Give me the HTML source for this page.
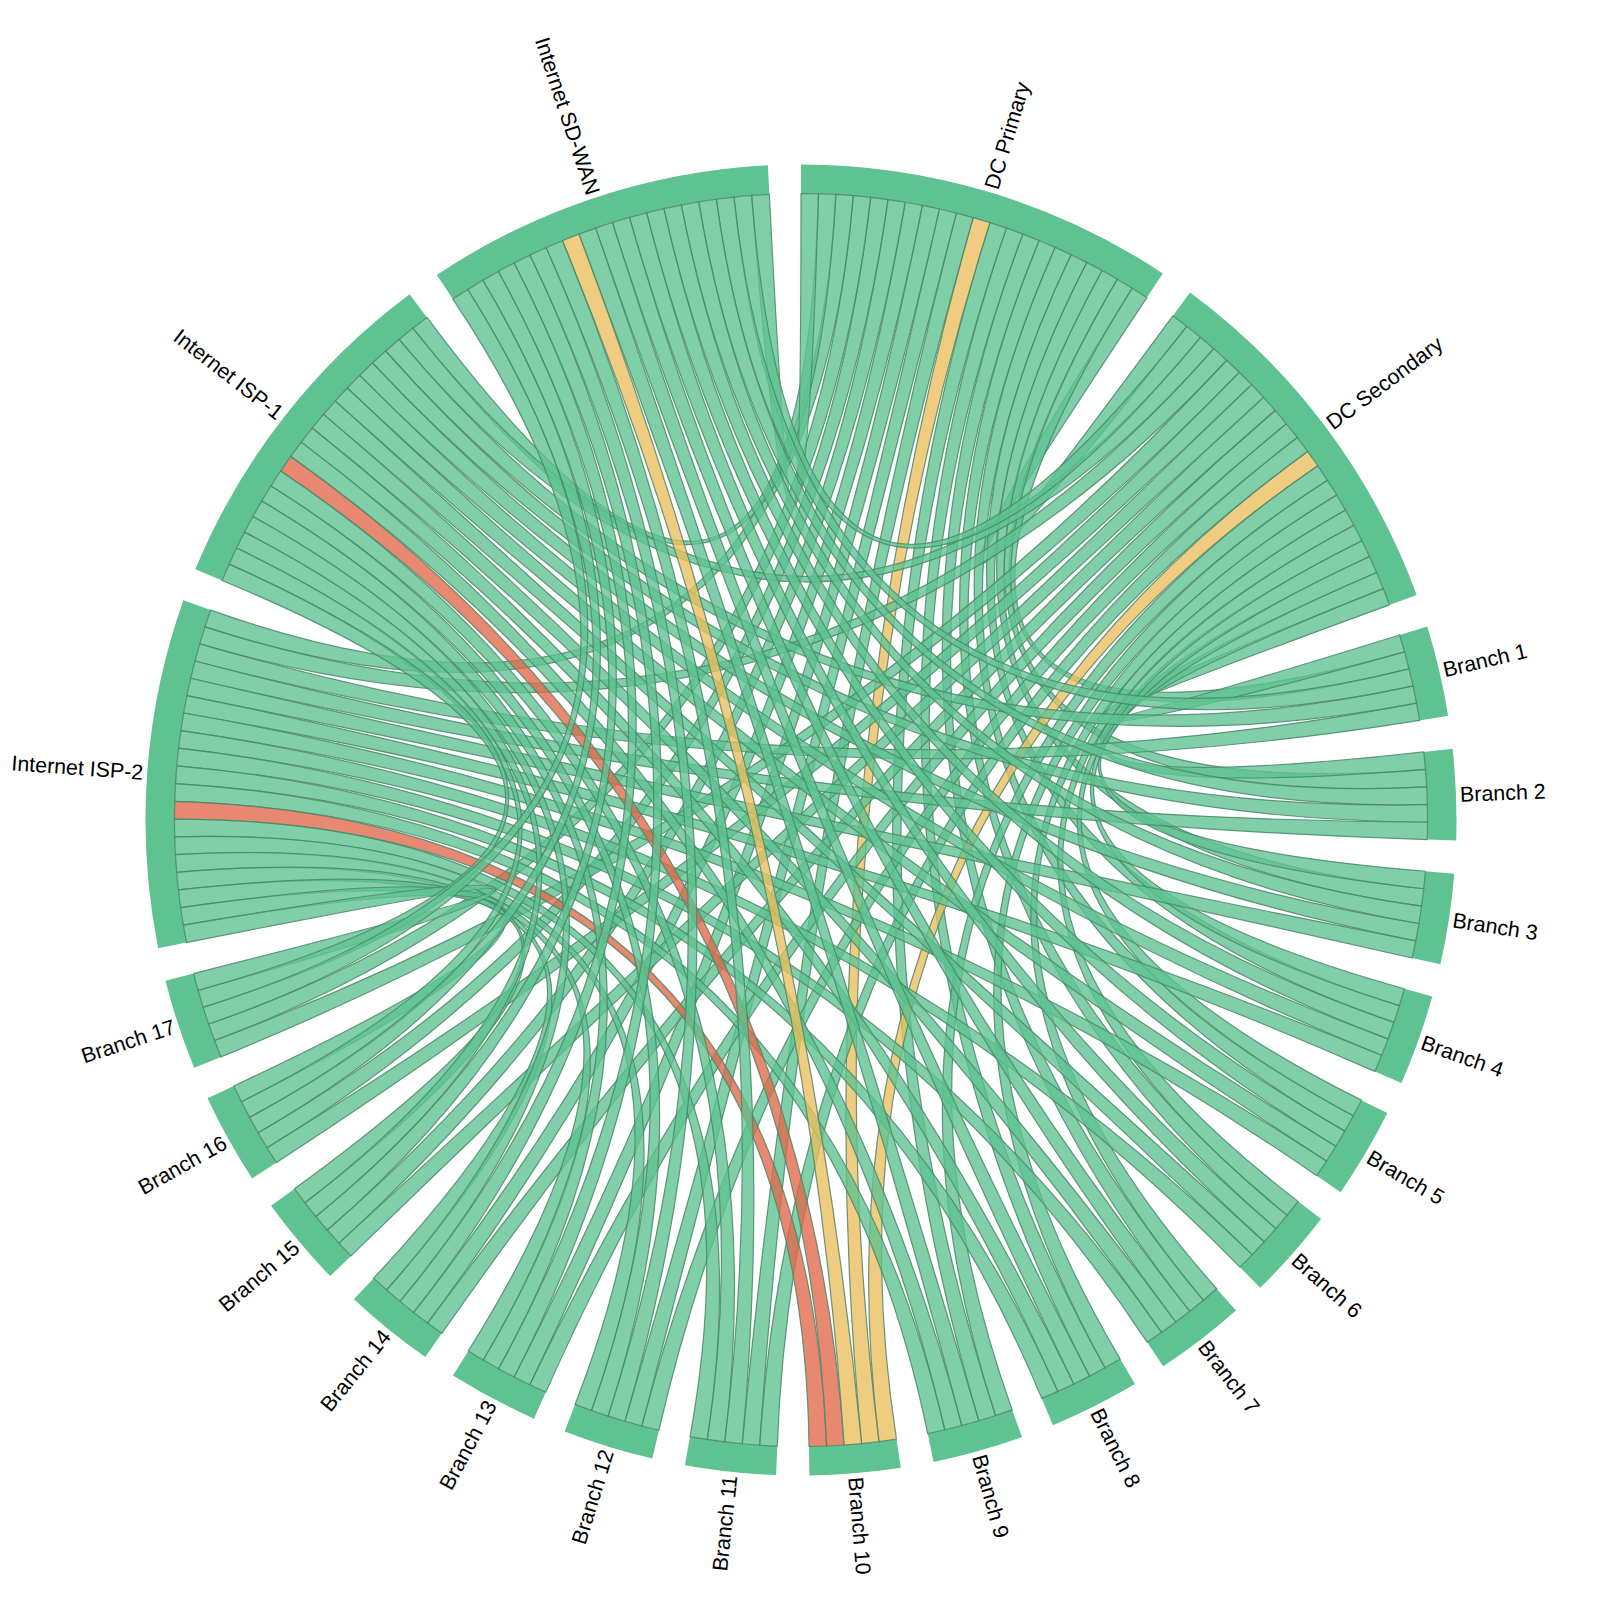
<!DOCTYPE html><html><head><meta charset="utf-8"><style>html,body{margin:0;padding:0;background:#fff;}svg{display:block;}text{font-family:"Liberation Sans",sans-serif;font-size:21.4px;fill:#000;}</style></head><body>
<svg width="1600" height="1600" viewBox="0 0 1600 1600">
<rect width="1600" height="1600" fill="#fff"/>
<g fill="#5ec291">
<path d="M801,164.5A655.5,655.5 0 0 1 1162.86,273.43L1146.85,297.61A626.5,626.5 0 0 0 801,193.5Z"/>
<path d="M1190.09,292.47A655.5,655.5 0 0 1 1416.65,594.92L1389.41,604.88A626.5,626.5 0 0 0 1172.88,315.81Z"/>
<path d="M1427.26,626.41A655.5,655.5 0 0 1 1448.16,715.8L1419.53,720.41A626.5,626.5 0 0 0 1399.56,634.98Z"/>
<path d="M1452.61,748.73A655.5,655.5 0 0 1 1456.18,840.45L1427.2,839.55A626.5,626.5 0 0 0 1423.79,751.88Z"/>
<path d="M1454.3,873.63A655.5,655.5 0 0 1 1440.41,964.36L1412.12,957.98A626.5,626.5 0 0 0 1425.4,871.26Z"/>
<path d="M1432.27,996.58A655.5,655.5 0 0 1 1401.41,1083.03L1374.85,1071.4A626.5,626.5 0 0 0 1404.34,988.77Z"/>
<path d="M1387.31,1113.12A655.5,655.5 0 0 1 1340.61,1192.15L1316.74,1175.69A626.5,626.5 0 0 0 1361.37,1100.15Z"/>
<path d="M1321.06,1219.02A655.5,655.5 0 0 1 1260.22,1287.76L1239.91,1267.06A626.5,626.5 0 0 0 1298.05,1201.37Z"/>
<path d="M1235.93,1310.43A655.5,655.5 0 0 1 1163.15,1366.37L1147.13,1342.2A626.5,626.5 0 0 0 1216.69,1288.73Z"/>
<path d="M1135,1384.03A655.5,655.5 0 0 1 1052.93,1425.15L1041.79,1398.38A626.5,626.5 0 0 0 1120.22,1359.07Z"/>
<path d="M1021.94,1437.14A655.5,655.5 0 0 1 933.57,1461.96L927.7,1433.55A626.5,626.5 0 0 0 1012.17,1409.84Z"/>
<path d="M900.86,1467.85A655.5,655.5 0 0 1 809.39,1475.45L809.01,1446.45A626.5,626.5 0 0 0 896.45,1439.19Z"/>
<path d="M776.16,1475.03A655.5,655.5 0 0 1 684.9,1465.14L690.04,1436.59A626.5,626.5 0 0 0 777.26,1446.05Z"/>
<path d="M652.35,1458.42A655.5,655.5 0 0 1 564.63,1431.4L575.09,1404.35A626.5,626.5 0 0 0 658.93,1430.18Z"/>
<path d="M533.95,1418.63A655.5,655.5 0 0 1 452.94,1375.46L468.34,1350.89A626.5,626.5 0 0 0 545.76,1392.15Z"/>
<path d="M425.24,1357.11A655.5,655.5 0 0 1 353.89,1299.35L373.67,1278.14A626.5,626.5 0 0 0 441.86,1333.35Z"/>
<path d="M330.18,1276.08A655.5,655.5 0 0 1 271.08,1205.83L294.53,1188.76A626.5,626.5 0 0 0 351.01,1255.9Z"/>
<path d="M252.21,1178.48A655.5,655.5 0 0 1 207.51,1098.31L233.77,1085.99A626.5,626.5 0 0 0 276.49,1162.62Z"/>
<path d="M194.17,1067.87A655.5,655.5 0 0 1 165.5,980.67L193.61,973.56A626.5,626.5 0 0 0 221.02,1056.91Z"/>
<path d="M158.17,948.26A655.5,655.5 0 0 1 183.39,600.37L210.71,610.09A626.5,626.5 0 0 0 186.61,942.59Z"/>
<path d="M195.31,569.36A655.5,655.5 0 0 1 409.62,294.16L426.94,317.43A626.5,626.5 0 0 0 222.11,580.44Z"/>
<path d="M436.78,275A655.5,655.5 0 0 1 767.89,165.34L769.35,194.3A626.5,626.5 0 0 0 452.89,299.11Z"/>
</g>
<g fill-opacity="0.79" stroke="#4a876a" stroke-width="1.2" stroke-opacity="0.85">
<path d="M1132.17,288.18A626.5,626.5 0 0 1 1146.85,297.61Q801,820 1172.88,315.81A626.5,626.5 0 0 1 1186.77,326.36Q801,820 1132.17,288.18Z" fill="#5ec291"/>
<path d="M1404.51,651.83A626.5,626.5 0 0 1 1408.98,668.81Q801,820 1117.23,279.17A626.5,626.5 0 0 1 1132.17,288.18Q801,820 1404.51,651.83Z" fill="#5ec291"/>
<path d="M1425.45,769.36A626.5,626.5 0 0 1 1426.62,786.88Q801,820 1102.05,270.57A626.5,626.5 0 0 1 1117.23,279.17Q801,820 1425.45,769.36Z" fill="#5ec291"/>
<path d="M1423.72,888.73A626.5,626.5 0 0 1 1421.55,906.16Q801,820 1086.64,262.4A626.5,626.5 0 0 1 1102.05,270.57Q801,820 1423.72,888.73Z" fill="#5ec291"/>
<path d="M1399.37,1005.61A626.5,626.5 0 0 1 1393.94,1022.31Q801,820 1071,254.67A626.5,626.5 0 0 1 1086.64,262.4Q801,820 1399.37,1005.61Z" fill="#5ec291"/>
<path d="M1353.3,1115.75A626.5,626.5 0 0 1 1344.79,1131.11Q801,820 1055.15,247.37A626.5,626.5 0 0 1 1071,254.67Q801,820 1353.3,1115.75Z" fill="#5ec291"/>
<path d="M1287.17,1215.15A626.5,626.5 0 0 1 1275.9,1228.62Q801,820 1039.11,240.51A626.5,626.5 0 0 1 1055.15,247.37Q801,820 1287.17,1215.15Z" fill="#5ec291"/>
<path d="M1203.39,1300.2A626.5,626.5 0 0 1 1189.77,1311.28Q801,820 1022.88,234.11A626.5,626.5 0 0 1 1039.11,240.51Q801,820 1203.39,1300.2Z" fill="#5ec291"/>
<path d="M1104.99,1367.81A626.5,626.5 0 0 1 1089.52,1376.11Q801,820 1006.48,228.16A626.5,626.5 0 0 1 1022.88,234.11Q801,820 1104.99,1367.81Z" fill="#5ec291"/>
<path d="M995.55,1415.53A626.5,626.5 0 0 1 978.79,1420.74Q801,820 989.92,222.66A626.5,626.5 0 0 1 1006.48,228.16Q801,820 995.55,1415.53Z" fill="#5ec291"/>
<path d="M879.05,1441.62A626.5,626.5 0 0 1 861.6,1443.56Q801,820 973.22,217.64A626.5,626.5 0 0 1 989.92,222.66Q801,820 879.05,1441.62Z" fill="#ecbe5e"/>
<path d="M759.72,1445.14A626.5,626.5 0 0 1 742.22,1443.74Q801,820 956.38,213.07A626.5,626.5 0 0 1 973.22,217.64Q801,820 759.72,1445.14Z" fill="#5ec291"/>
<path d="M641.88,1425.96A626.5,626.5 0 0 1 624.96,1421.26Q801,820 939.42,208.98A626.5,626.5 0 0 1 956.38,213.07Q801,820 641.88,1425.96Z" fill="#5ec291"/>
<path d="M529.83,1384.77A626.5,626.5 0 0 1 514.11,1376.95Q801,820 922.35,205.37A626.5,626.5 0 0 1 939.42,208.98Q801,820 529.83,1384.77Z" fill="#5ec291"/>
<path d="M427.62,1323.08A626.5,626.5 0 0 1 413.66,1312.42Q801,820 905.19,202.22A626.5,626.5 0 0 1 922.35,205.37Q801,820 427.62,1323.08Z" fill="#5ec291"/>
<path d="M338.97,1243.12A626.5,626.5 0 0 1 327.29,1230Q801,820 887.95,199.56A626.5,626.5 0 0 1 905.19,202.22Q801,820 338.97,1243.12Z" fill="#5ec291"/>
<path d="M267.09,1147.79A626.5,626.5 0 0 1 258.12,1132.7Q801,820 870.64,197.38A626.5,626.5 0 0 1 887.95,199.56Q801,820 267.09,1147.79Z" fill="#5ec291"/>
<path d="M214.61,1040.56A626.5,626.5 0 0 1 208.66,1024.04Q801,820 853.28,195.69A626.5,626.5 0 0 1 870.64,197.38Q801,820 214.61,1040.56Z" fill="#5ec291"/>
<path d="M835.88,194.47A626.5,626.5 0 0 1 853.28,195.69Q801,820 205,626.9A626.5,626.5 0 0 1 210.71,610.09Q801,820 835.88,194.47Z" fill="#5ec291"/>
<path d="M818.44,193.74A626.5,626.5 0 0 1 835.88,194.47Q801,820 412.85,328.23A626.5,626.5 0 0 1 426.94,317.43Q801,820 818.44,193.74Z" fill="#5ec291"/>
<path d="M801,193.5A626.5,626.5 0 0 1 818.44,193.74Q801,820 751.63,195.45A626.5,626.5 0 0 1 769.35,194.3Q801,820 801,193.5Z" fill="#5ec291"/>
<path d="M1399.56,634.98A626.5,626.5 0 0 1 1404.51,651.83Q801,820 1383.19,588.58A626.5,626.5 0 0 1 1389.41,604.88Q801,820 1399.56,634.98Z" fill="#5ec291"/>
<path d="M1423.79,751.88A626.5,626.5 0 0 1 1425.45,769.36Q801,820 1376.52,572.46A626.5,626.5 0 0 1 1383.19,588.58Q801,820 1423.79,751.88Z" fill="#5ec291"/>
<path d="M1425.4,871.26A626.5,626.5 0 0 1 1423.72,888.73Q801,820 1369.41,556.53A626.5,626.5 0 0 1 1376.52,572.46Q801,820 1425.4,871.26Z" fill="#5ec291"/>
<path d="M1404.34,988.77A626.5,626.5 0 0 1 1399.37,1005.61Q801,820 1361.85,540.81A626.5,626.5 0 0 1 1369.41,556.53Q801,820 1404.34,988.77Z" fill="#5ec291"/>
<path d="M1361.37,1100.15A626.5,626.5 0 0 1 1353.3,1115.75Q801,820 1353.86,525.3A626.5,626.5 0 0 1 1361.85,540.81Q801,820 1361.37,1100.15Z" fill="#5ec291"/>
<path d="M1298.05,1201.37A626.5,626.5 0 0 1 1287.17,1215.15Q801,820 1345.44,510.02A626.5,626.5 0 0 1 1353.86,525.3Q801,820 1298.05,1201.37Z" fill="#5ec291"/>
<path d="M1216.69,1288.73A626.5,626.5 0 0 1 1203.39,1300.2Q801,820 1336.6,494.98A626.5,626.5 0 0 1 1345.44,510.02Q801,820 1216.69,1288.73Z" fill="#5ec291"/>
<path d="M1120.22,1359.07A626.5,626.5 0 0 1 1104.99,1367.81Q801,820 1327.34,480.19A626.5,626.5 0 0 1 1336.6,494.98Q801,820 1120.22,1359.07Z" fill="#5ec291"/>
<path d="M1012.17,1409.84A626.5,626.5 0 0 1 995.55,1415.53Q801,820 1317.67,465.67A626.5,626.5 0 0 1 1327.34,480.19Q801,820 1012.17,1409.84Z" fill="#5ec291"/>
<path d="M896.45,1439.19A626.5,626.5 0 0 1 879.05,1441.62Q801,820 1307.61,451.42A626.5,626.5 0 0 1 1317.67,465.67Q801,820 896.45,1439.19Z" fill="#ecbe5e"/>
<path d="M777.26,1446.05A626.5,626.5 0 0 1 759.72,1445.14Q801,820 1297.15,437.46A626.5,626.5 0 0 1 1307.61,451.42Q801,820 777.26,1446.05Z" fill="#5ec291"/>
<path d="M658.93,1430.18A626.5,626.5 0 0 1 641.88,1425.96Q801,820 1286.31,423.79A626.5,626.5 0 0 1 1297.15,437.46Q801,820 658.93,1430.18Z" fill="#5ec291"/>
<path d="M545.76,1392.15A626.5,626.5 0 0 1 529.83,1384.77Q801,820 1275.09,410.43A626.5,626.5 0 0 1 1286.31,423.79Q801,820 545.76,1392.15Z" fill="#5ec291"/>
<path d="M441.86,1333.35A626.5,626.5 0 0 1 427.62,1323.08Q801,820 1263.5,397.39A626.5,626.5 0 0 1 1275.09,410.43Q801,820 441.86,1333.35Z" fill="#5ec291"/>
<path d="M351.01,1255.9A626.5,626.5 0 0 1 338.97,1243.12Q801,820 1251.55,384.68A626.5,626.5 0 0 1 1263.5,397.39Q801,820 351.01,1255.9Z" fill="#5ec291"/>
<path d="M276.49,1162.62A626.5,626.5 0 0 1 267.09,1147.79Q801,820 1239.25,372.3A626.5,626.5 0 0 1 1251.55,384.68Q801,820 276.49,1162.62Z" fill="#5ec291"/>
<path d="M221.02,1056.91A626.5,626.5 0 0 1 214.61,1040.56Q801,820 1226.62,360.27A626.5,626.5 0 0 1 1239.25,372.3Q801,820 221.02,1056.91Z" fill="#5ec291"/>
<path d="M1213.65,348.6A626.5,626.5 0 0 1 1226.62,360.27Q801,820 199.77,643.88A626.5,626.5 0 0 1 205,626.9Q801,820 1213.65,348.6Z" fill="#5ec291"/>
<path d="M1200.37,337.29A626.5,626.5 0 0 1 1213.65,348.6Q801,820 399.06,339.43A626.5,626.5 0 0 1 412.85,328.23Q801,820 1200.37,337.29Z" fill="#5ec291"/>
<path d="M1186.77,326.36A626.5,626.5 0 0 1 1200.37,337.29Q801,820 733.95,197.1A626.5,626.5 0 0 1 751.63,195.45Q801,820 1186.77,326.36Z" fill="#5ec291"/>
<path d="M1416.5,703.11A626.5,626.5 0 0 1 1419.53,720.41Q801,820 195.02,660.99A626.5,626.5 0 0 1 199.77,643.88Q801,820 1416.5,703.11Z" fill="#5ec291"/>
<path d="M1412.98,685.91A626.5,626.5 0 0 1 1416.5,703.11Q801,820 385.6,351.01A626.5,626.5 0 0 1 399.06,339.43Q801,820 1412.98,685.91Z" fill="#5ec291"/>
<path d="M1408.98,668.81A626.5,626.5 0 0 1 1412.98,685.91Q801,820 716.32,199.25A626.5,626.5 0 0 1 733.95,197.1Q801,820 1408.98,668.81Z" fill="#5ec291"/>
<path d="M1427.5,821.99A626.5,626.5 0 0 1 1427.2,839.55Q801,820 190.75,678.23A626.5,626.5 0 0 1 195.02,660.99Q801,820 1427.5,821.99Z" fill="#5ec291"/>
<path d="M1427.31,804.43A626.5,626.5 0 0 1 1427.5,821.99Q801,820 372.48,362.98A626.5,626.5 0 0 1 385.6,351.01Q801,820 1427.31,804.43Z" fill="#5ec291"/>
<path d="M1426.62,786.88A626.5,626.5 0 0 1 1427.31,804.43Q801,820 698.76,201.9A626.5,626.5 0 0 1 716.32,199.25Q801,820 1426.62,786.88Z" fill="#5ec291"/>
<path d="M1415.74,940.79A626.5,626.5 0 0 1 1412.12,957.98Q801,820 186.98,695.58A626.5,626.5 0 0 1 190.75,678.23Q801,820 1415.74,940.79Z" fill="#5ec291"/>
<path d="M1418.89,923.52A626.5,626.5 0 0 1 1415.74,940.79Q801,820 359.7,375.31A626.5,626.5 0 0 1 372.48,362.98Q801,820 1418.89,923.52Z" fill="#5ec291"/>
<path d="M1421.55,906.16A626.5,626.5 0 0 1 1418.89,923.52Q801,820 681.28,205.04A626.5,626.5 0 0 1 698.76,201.9Q801,820 1421.55,906.16Z" fill="#5ec291"/>
<path d="M1381.67,1055.21A626.5,626.5 0 0 1 1374.85,1071.4Q801,820 183.7,713.03A626.5,626.5 0 0 1 186.98,695.58Q801,820 1381.67,1055.21Z" fill="#5ec291"/>
<path d="M1388.03,1038.85A626.5,626.5 0 0 1 1381.67,1055.21Q801,820 347.27,387.99A626.5,626.5 0 0 1 359.7,375.31Q801,820 1388.03,1038.85Z" fill="#5ec291"/>
<path d="M1393.94,1022.31A626.5,626.5 0 0 1 1388.03,1038.85Q801,820 663.9,208.69A626.5,626.5 0 0 1 681.28,205.04Q801,820 1393.94,1022.31Z" fill="#5ec291"/>
<path d="M1326.51,1161.09A626.5,626.5 0 0 1 1316.74,1175.69Q801,820 180.92,730.57A626.5,626.5 0 0 1 183.7,713.03Q801,820 1326.51,1161.09Z" fill="#5ec291"/>
<path d="M1335.86,1146.23A626.5,626.5 0 0 1 1326.51,1161.09Q801,820 335.21,401.03A626.5,626.5 0 0 1 347.27,387.99Q801,820 1335.86,1146.23Z" fill="#5ec291"/>
<path d="M1344.79,1131.11A626.5,626.5 0 0 1 1335.86,1146.23Q801,820 646.63,212.82A626.5,626.5 0 0 1 663.9,208.69Q801,820 1344.79,1131.11Z" fill="#5ec291"/>
<path d="M1252.26,1254.59A626.5,626.5 0 0 1 1239.91,1267.06Q801,820 178.63,748.18A626.5,626.5 0 0 1 180.92,730.57Q801,820 1252.26,1254.59Z" fill="#5ec291"/>
<path d="M1264.27,1241.77A626.5,626.5 0 0 1 1252.26,1254.59Q801,820 323.52,414.4A626.5,626.5 0 0 1 335.21,401.03Q801,820 1264.27,1241.77Z" fill="#5ec291"/>
<path d="M1275.9,1228.62A626.5,626.5 0 0 1 1264.27,1241.77Q801,820 629.48,217.44A626.5,626.5 0 0 1 646.63,212.82Q801,820 1275.9,1228.62Z" fill="#5ec291"/>
<path d="M1161.63,1332.3A626.5,626.5 0 0 1 1147.13,1342.2Q801,820 176.84,765.85A626.5,626.5 0 0 1 178.63,748.18Q801,820 1161.63,1332.3Z" fill="#5ec291"/>
<path d="M1175.85,1321.99A626.5,626.5 0 0 1 1161.63,1332.3Q801,820 312.21,428.09A626.5,626.5 0 0 1 323.52,414.4Q801,820 1175.85,1321.99Z" fill="#5ec291"/>
<path d="M1189.77,1311.28A626.5,626.5 0 0 1 1175.85,1321.99Q801,820 612.47,222.54A626.5,626.5 0 0 1 629.48,217.44Q801,820 1189.77,1311.28Z" fill="#5ec291"/>
<path d="M1057.9,1391.4A626.5,626.5 0 0 1 1041.79,1398.38Q801,820 175.56,783.57A626.5,626.5 0 0 1 176.84,765.85Q801,820 1057.9,1391.4Z" fill="#5ec291"/>
<path d="M1073.82,1383.98A626.5,626.5 0 0 1 1057.9,1391.4Q801,820 301.3,442.11A626.5,626.5 0 0 1 312.21,428.09Q801,820 1073.82,1383.98Z" fill="#5ec291"/>
<path d="M1089.52,1376.11A626.5,626.5 0 0 1 1073.82,1383.98Q801,820 595.61,228.12A626.5,626.5 0 0 1 612.47,222.54Q801,820 1089.52,1376.11Z" fill="#5ec291"/>
<path d="M944.85,1429.76A626.5,626.5 0 0 1 927.7,1433.55Q801,820 174.78,801.31A626.5,626.5 0 0 1 175.56,783.57Q801,820 944.85,1429.76Z" fill="#5ec291"/>
<path d="M961.88,1425.49A626.5,626.5 0 0 1 944.85,1429.76Q801,820 290.79,456.42A626.5,626.5 0 0 1 301.3,442.11Q801,820 961.88,1425.49Z" fill="#5ec291"/>
<path d="M978.79,1420.74A626.5,626.5 0 0 1 961.88,1425.49Q801,820 578.92,234.18A626.5,626.5 0 0 1 595.61,228.12Q801,820 978.79,1420.74Z" fill="#5ec291"/>
<path d="M826.57,1445.98A626.5,626.5 0 0 1 809.01,1446.45Q801,820 174.5,819.06A626.5,626.5 0 0 1 174.78,801.31Q801,820 826.57,1445.98Z" fill="#e2684a"/>
<path d="M844.1,1445.02A626.5,626.5 0 0 1 826.57,1445.98Q801,820 280.69,471.03A626.5,626.5 0 0 1 290.79,456.42Q801,820 844.1,1445.02Z" fill="#e2684a"/>
<path d="M861.6,1443.56A626.5,626.5 0 0 1 844.1,1445.02Q801,820 562.4,240.71A626.5,626.5 0 0 1 578.92,234.18Q801,820 861.6,1443.56Z" fill="#ecbe5e"/>
<path d="M707.36,1439.46A626.5,626.5 0 0 1 690.04,1436.59Q801,820 174.73,836.82A626.5,626.5 0 0 1 174.5,819.06Q801,820 707.36,1439.46Z" fill="#5ec291"/>
<path d="M724.76,1441.84A626.5,626.5 0 0 1 707.36,1439.46Q801,820 271.01,485.91A626.5,626.5 0 0 1 280.69,471.03Q801,820 724.76,1441.84Z" fill="#5ec291"/>
<path d="M742.22,1443.74A626.5,626.5 0 0 1 724.76,1441.84Q801,820 546.08,247.71A626.5,626.5 0 0 1 562.4,240.71Q801,820 742.22,1443.74Z" fill="#5ec291"/>
<path d="M591.55,1410.45A626.5,626.5 0 0 1 575.09,1404.35Q801,820 175.45,854.57A626.5,626.5 0 0 1 174.73,836.82Q801,820 591.55,1410.45Z" fill="#5ec291"/>
<path d="M608.18,1416.09A626.5,626.5 0 0 1 591.55,1410.45Q801,820 261.75,501.07A626.5,626.5 0 0 1 271.01,485.91Q801,820 608.18,1416.09Z" fill="#5ec291"/>
<path d="M624.96,1421.26A626.5,626.5 0 0 1 608.18,1416.09Q801,820 529.96,255.16A626.5,626.5 0 0 1 546.08,247.71Q801,820 624.96,1421.26Z" fill="#5ec291"/>
<path d="M483.35,1360A626.5,626.5 0 0 1 468.34,1350.89Q801,820 176.69,872.28A626.5,626.5 0 0 1 175.45,854.57Q801,820 483.35,1360Z" fill="#5ec291"/>
<path d="M498.61,1368.69A626.5,626.5 0 0 1 483.35,1360Q801,820 252.93,516.48A626.5,626.5 0 0 1 261.75,501.07Q801,820 498.61,1368.69Z" fill="#5ec291"/>
<path d="M514.11,1376.95A626.5,626.5 0 0 1 498.61,1368.69Q801,820 514.06,263.07A626.5,626.5 0 0 1 529.96,255.16Q801,820 514.11,1376.95Z" fill="#5ec291"/>
<path d="M386.68,1289.94A626.5,626.5 0 0 1 373.67,1278.14Q801,820 178.42,889.96A626.5,626.5 0 0 1 176.69,872.28Q801,820 386.68,1289.94Z" fill="#5ec291"/>
<path d="M400.02,1301.37A626.5,626.5 0 0 1 386.68,1289.94Q801,820 244.55,532.14A626.5,626.5 0 0 1 252.93,516.48Q801,820 400.02,1301.37Z" fill="#5ec291"/>
<path d="M413.66,1312.42A626.5,626.5 0 0 1 400.02,1301.37Q801,820 498.39,271.43A626.5,626.5 0 0 1 514.06,263.07Q801,820 413.66,1312.42Z" fill="#5ec291"/>
<path d="M305.06,1202.81A626.5,626.5 0 0 1 294.53,1188.76Q801,820 180.65,907.58A626.5,626.5 0 0 1 178.42,889.96Q801,820 305.06,1202.81Z" fill="#5ec291"/>
<path d="M315.98,1216.56A626.5,626.5 0 0 1 305.06,1202.81Q801,820 236.61,548.03A626.5,626.5 0 0 1 244.55,532.14Q801,820 315.98,1216.56Z" fill="#5ec291"/>
<path d="M327.29,1230A626.5,626.5 0 0 1 315.98,1216.56Q801,820 482.97,280.23A626.5,626.5 0 0 1 498.39,271.43Q801,820 327.29,1230Z" fill="#5ec291"/>
<path d="M241.45,1101.79A626.5,626.5 0 0 1 233.77,1085.99Q801,820 183.38,925.12A626.5,626.5 0 0 1 180.65,907.58Q801,820 241.45,1101.79Z" fill="#5ec291"/>
<path d="M249.57,1117.36A626.5,626.5 0 0 1 241.45,1101.79Q801,820 229.13,564.13A626.5,626.5 0 0 1 236.61,548.03Q801,820 249.57,1117.36Z" fill="#5ec291"/>
<path d="M258.12,1132.7A626.5,626.5 0 0 1 249.57,1117.36Q801,820 467.79,289.46A626.5,626.5 0 0 1 482.97,280.23Q801,820 258.12,1132.7Z" fill="#5ec291"/>
<path d="M198.15,990.53A626.5,626.5 0 0 1 193.61,973.56Q801,820 186.61,942.59A626.5,626.5 0 0 1 183.38,925.12Q801,820 198.15,990.53Z" fill="#5ec291"/>
<path d="M203.17,1007.36A626.5,626.5 0 0 1 198.15,990.53Q801,820 222.11,580.44A626.5,626.5 0 0 1 229.13,564.13Q801,820 203.17,1007.36Z" fill="#5ec291"/>
<path d="M208.66,1024.04A626.5,626.5 0 0 1 203.17,1007.36Q801,820 452.89,299.11A626.5,626.5 0 0 1 467.79,289.46Q801,820 208.66,1024.04Z" fill="#5ec291"/>
</g>
<text transform="translate(801,820) rotate(-73.25) translate(659.5,0)" dy="0.35em" text-anchor="start">DC Primary</text>
<text transform="translate(801,820) rotate(-36.84) translate(659.5,0)" dy="0.35em" text-anchor="start">DC Secondary</text>
<text transform="translate(801,820) rotate(-13.16) translate(659.5,0)" dy="0.35em" text-anchor="start">Branch 1</text>
<text transform="translate(801,820) rotate(-2.23) translate(659.5,0)" dy="0.35em" text-anchor="start">Branch 2</text>
<text transform="translate(801,820) rotate(8.71) translate(659.5,0)" dy="0.35em" text-anchor="start">Branch 3</text>
<text transform="translate(801,820) rotate(19.64) translate(659.5,0)" dy="0.35em" text-anchor="start">Branch 4</text>
<text transform="translate(801,820) rotate(30.58) translate(659.5,0)" dy="0.35em" text-anchor="start">Branch 5</text>
<text transform="translate(801,820) rotate(41.51) translate(659.5,0)" dy="0.35em" text-anchor="start">Branch 6</text>
<text transform="translate(801,820) rotate(52.45) translate(659.5,0)" dy="0.35em" text-anchor="start">Branch 7</text>
<text transform="translate(801,820) rotate(63.38) translate(659.5,0)" dy="0.35em" text-anchor="start">Branch 8</text>
<text transform="translate(801,820) rotate(74.32) translate(659.5,0)" dy="0.35em" text-anchor="start">Branch 9</text>
<text transform="translate(801,820) rotate(85.25) translate(659.5,0)" dy="0.35em" text-anchor="start">Branch 10</text>
<text transform="translate(801,820) rotate(96.19) translate(659.5,0) rotate(180)" dy="0.35em" text-anchor="end">Branch 11</text>
<text transform="translate(801,820) rotate(107.12) translate(659.5,0) rotate(180)" dy="0.35em" text-anchor="end">Branch 12</text>
<text transform="translate(801,820) rotate(118.06) translate(659.5,0) rotate(180)" dy="0.35em" text-anchor="end">Branch 13</text>
<text transform="translate(801,820) rotate(128.99) translate(659.5,0) rotate(180)" dy="0.35em" text-anchor="end">Branch 14</text>
<text transform="translate(801,820) rotate(139.93) translate(659.5,0) rotate(180)" dy="0.35em" text-anchor="end">Branch 15</text>
<text transform="translate(801,820) rotate(150.86) translate(659.5,0) rotate(180)" dy="0.35em" text-anchor="end">Branch 16</text>
<text transform="translate(801,820) rotate(161.8) translate(659.5,0) rotate(180)" dy="0.35em" text-anchor="end">Branch 17</text>
<text transform="translate(801,820) rotate(184.15) translate(659.5,0) rotate(180)" dy="0.35em" text-anchor="end">Internet ISP-2</text>
<text transform="translate(801,820) rotate(217.91) translate(659.5,0) rotate(180)" dy="0.35em" text-anchor="end">Internet ISP-1</text>
<text transform="translate(801,820) rotate(251.67) translate(659.5,0) rotate(180)" dy="0.35em" text-anchor="end">Internet SD-WAN</text>
</svg></body></html>
